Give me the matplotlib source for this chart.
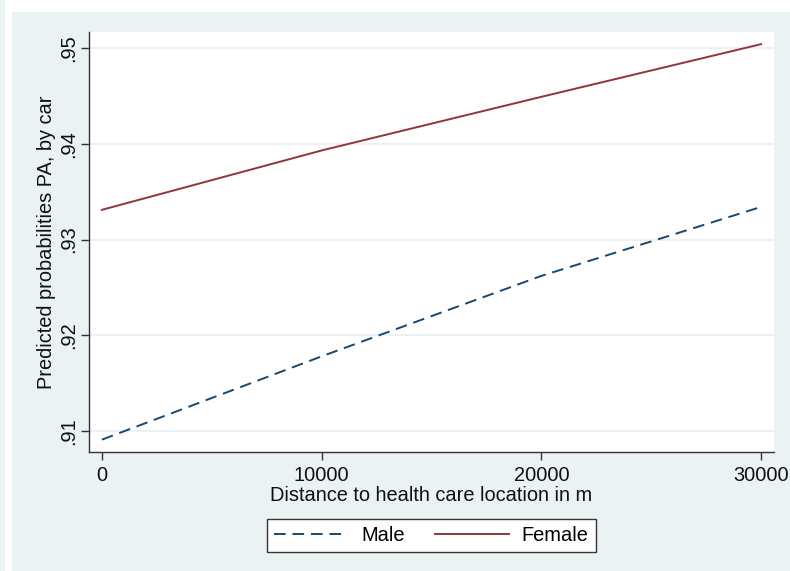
import matplotlib
matplotlib.use("Agg")
import matplotlib.pyplot as plt
from matplotlib.patches import Rectangle
from matplotlib.lines import Line2D

plt.rcParams['font.family'] = ['Liberation Sans', 'DejaVu Sans']

# predicted probabilities
distance = [0, 10000, 20000, 30000]
male = [0.9091, 0.9178, 0.9262, 0.9334]
female = [0.9331, 0.9393, 0.9449, 0.9504]

xticks = [0, 10000, 20000, 30000]
yticks = [0.91, 0.92, 0.93, 0.94, 0.95]
ytick_labels = [".91", ".92", ".93", ".94", ".95"]

BG = '#eaf2f3'
MALE_C = '#1a476f'
FEMALE_C = '#90353b'
AX_C = '#333333'
FS = 14.4

W, H = 790, 571
fig = plt.figure(figsize=(W / 100, H / 100), dpi=100, facecolor='white')

# screenshot frame: thin strip at the far left, graph region on the rest
fig.patches.append(Rectangle((0, 0), 5 / W, 1, transform=fig.transFigure,
                             facecolor=BG, edgecolor='none', zorder=-10))
fig.patches.append(Rectangle((12 / W, 0), 1 - 12 / W, 1 - 12 / H,
                             transform=fig.transFigure, facecolor=BG,
                             edgecolor='none', zorder=-10))

left, right, top, bottom = 89, 774, 32, 452
ax = fig.add_axes([left / W, 1 - bottom / H, (right - left) / W, (bottom - top) / H])
ax.set_facecolor('white')

ax.plot(distance, male, color=MALE_C, lw=1.4, ls=(0, (6, 3.5)), label='Male')
ax.plot(distance, female, color=FEMALE_C, lw=1.4, label='Female')

ax.set_xlim(-590, 30590)
ax.set_ylim(0.90781, 0.95167)
ax.set_xticks(xticks)
ax.set_xticklabels([str(x) for x in xticks])
ax.set_yticks(yticks)
ax.set_yticklabels(ytick_labels, rotation=90, va='center')

ax.grid(axis='y', color=BG, lw=1.5)
ax.set_axisbelow(True)
for s in ['top', 'right']:
    ax.spines[s].set_visible(False)
for s in ['left', 'bottom']:
    ax.spines[s].set_color(AX_C)
    ax.spines[s].set_linewidth(1.0)
ax.tick_params(axis='both', direction='out', length=6, width=1.0,
               color=AX_C, labelsize=FS, labelcolor='#111111', pad=4)
ax.tick_params(axis='y', pad=2)

ax.set_xlabel("Distance to health care location in m", fontsize=FS,
              color='#111111', labelpad=1)
ax.set_ylabel("Predicted probabilities PA, by car", fontsize=FS,
              color='#111111', labelpad=2)

handles = [Line2D([], [], color=MALE_C, lw=1.4, ls=(0, (6, 3.5))),
           Line2D([], [], color=FEMALE_C, lw=1.4)]
leg = fig.legend(handles, ['Male', 'Female'], loc='center',
                 bbox_to_anchor=(431.5 / W, 1 - 535.5 / H), ncol=2,
                 fontsize=FS, frameon=True, fancybox=False, handlelength=3.7,
                 columnspacing=1.5, handletextpad=0.65, borderpad=0.35,
                 borderaxespad=0)
leg.get_frame().set_edgecolor(AX_C)
leg.get_frame().set_linewidth(1.0)
leg.get_frame().set_facecolor('white')
leg.get_frame().set_alpha(1)

fig.savefig("out.png", dpi=100, facecolor='white')
